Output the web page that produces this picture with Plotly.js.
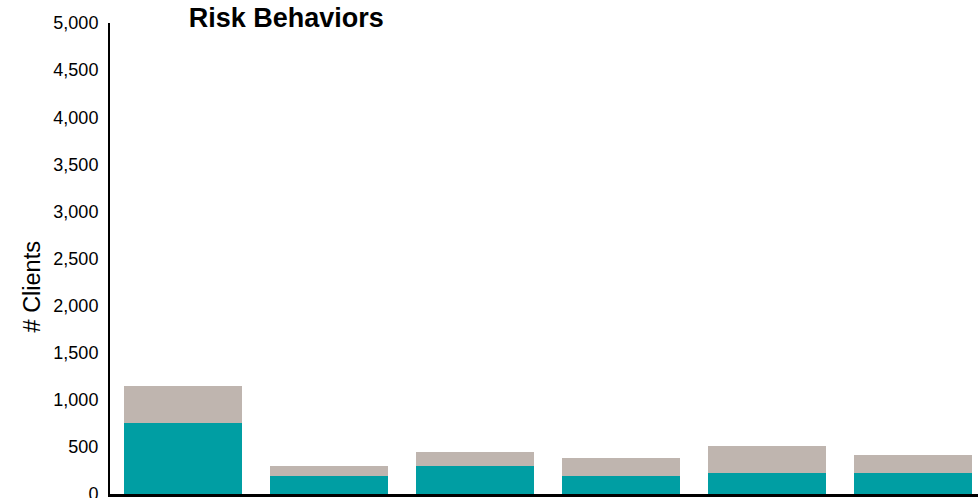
<!DOCTYPE html>
<html>
<head>
<meta charset="utf-8">
<script src="https://cdn.plot.ly/plotly-3.0.1.min.js"></script>
<style>html,body{margin:0;padding:0;background:#fff;}#chart{width:978px;height:498px;}</style>
</head>
<body>
<div id="chart"></div>
<script>
const categories = ["A", "B", "C", "D", "E", "F"];
const tealValues = [750, 195, 300, 190, 225, 225];
const grayValues = [400, 105, 150, 195, 285, 190];
const yTicks = [0, 500, 1000, 1500, 2000, 2500, 3000, 3500, 4000, 4500, 5000];
const yAxisTitle = "# Clients";

const traces = [
  {type: "bar", x: categories, y: tealValues, marker: {color: "#009EA3"}, name: "Series 1", hoverinfo: "y"},
  {type: "bar", x: categories, y: grayValues, marker: {color: "#BFB5AF"}, name: "Series 2", hoverinfo: "y"}
];

const layout = {
  width: 978, height: 498,
  barmode: "stack",
  bargap: 0.19,
  showlegend: false,
  paper_bgcolor: "#fff", plot_bgcolor: "#fff",
  margin: {l: 110, r: 0, t: 23, b: 4, pad: 0},
  font: {family: "Liberation Sans, Arial, sans-serif", color: "#000"},
  title: {text: "<b>Risk Behaviors</b>", font: {size: 27, color: "#000"}, xref: "paper", x: 0.203, xanchor: "center", yref: "container", y: 0.964, yanchor: "middle"},
  xaxis: {range: [-0.5, 5.445], showticklabels: false, ticks: "", showgrid: false, zeroline: false, showline: true, linecolor: "#000", linewidth: 3, fixedrange: true},
  yaxis: {range: [0, 5000], tickvals: yTicks, tickformat: ",", ticks: "", showgrid: false, zeroline: false, showline: true, linecolor: "#000", linewidth: 2, tickfont: {size: 18}, ticklabelstandoff: 6, ticklabeloverflow: "allow", fixedrange: true},
  annotations: [{text: yAxisTitle, textangle: -90, xref: "paper", yref: "paper", x: -0.0902, y: 0.44, xanchor: "center", yanchor: "middle", showarrow: false, font: {size: 23.5, color: "#000"}}]
};

Plotly.newPlot("chart", traces, layout, {displayModeBar: false, staticPlot: true});
</script>
</body>
</html>
